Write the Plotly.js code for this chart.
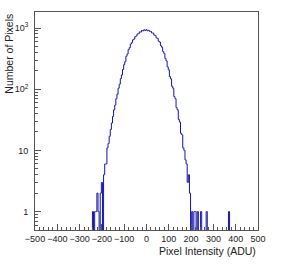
<!DOCTYPE html>
<html>
<head>
<meta charset="utf-8">
<script src="https://cdn.plot.ly/plotly-3.0.1.min.js"></script>
<style>html,body{margin:0;padding:0;background:#fff;}#chart{width:293px;height:264px;}</style>
</head>
<body>
<div id="chart"></div>
<script>
// Histogram: pixel intensity (ADU), bins of 5 ADU starting at centre -250
const binFirstCenter = -250;
const binWidth = 5;
const counts = [
  0,0,1,0,1,1,2,1,0,2,
  3,0,4,6,6,11,13,17,22,28,
  36,46,55,70,83,104,121,149,171,210,
  252,282,345,376,445,478,548,578,642,662,
  724,741,800,808,865,860,912,898,938,910,
  942,905,922,880,884,832,828,768,757,694,
  678,610,590,515,486,414,385,318,291,232,
  208,161,148,112,104,76,70,50,46,32,
  29,19,18,11,10,7,6,3,4,2,
  0,1,0,1,1,0,1,0,0,1,
  0,0,0,0,1,0,0,0,0,0,
  0,0,0,0,0,0,0,0,0,0,
  0,0,0,0,1,0
];
const xTickVals = [-500,-400,-300,-200,-100,0,100,200,300,400,500];
const yTickVals = [1,10,100,1000];
const yTickText = ['1','10','10<sup>2</sup>','10<sup>3</sup>'];
const xTitle = 'Pixel Intensity (ADU)';
const yTitle = 'Number of Pixels';

const xs = counts.map((c,i)=>binFirstCenter + i*binWidth);
const ys = counts.map(c => c > 0 ? c : 0.01); // empty bins drop below the frame

const axisColor = '#555';
const fontFam = 'Liberation Sans, Arial, sans-serif';
const tickFont = {family:fontFam, size:9, color:'#222'};

const trace = {
  x: xs, y: ys, type:'scatter', mode:'lines',
  line:{shape:'hvh', color:'rgb(20,20,175)', width:1, simplify:false},
  hoverinfo:'skip'
};

const layout = {
  width:293, height:264,
  margin:{l:35, r:35, t:12, b:34},
  paper_bgcolor:'#fff', plot_bgcolor:'#fff',
  showlegend:false,
  xaxis:{
    range:[-500,500], tickmode:'array', tickvals:xTickVals,
    ticks:'inside', ticklen:6, tickwidth:1, tickcolor:axisColor,
    minor:{dtick:20, ticks:'inside', ticklen:3, tickcolor:axisColor, showgrid:false},
    showline:true, linecolor:axisColor, linewidth:1, mirror:true,
    showgrid:false, zeroline:false, tickfont:tickFont
  },
  yaxis:{
    type:'log', range:[Math.log10(0.5), Math.log10(1830)],
    tickmode:'array', tickvals:yTickVals, ticktext:yTickText,
    ticks:'inside', ticklen:6, tickwidth:1, tickcolor:axisColor,
    minor:{dtick:'D1', ticks:'inside', ticklen:3, tickcolor:axisColor, showgrid:false},
    showline:true, linecolor:axisColor, linewidth:1, mirror:true,
    showgrid:false, zeroline:false, tickfont:tickFont, ticklabelstandoff:4
  },
  annotations:[
    {text:xTitle, xref:'paper', yref:'paper', x:1, y:-0.058, xanchor:'right', yanchor:'top',
     showarrow:false, font:{family:fontFam, size:10.5, color:'#222'}},
    {text:yTitle, xref:'paper', yref:'paper', x:-0.118, y:1, xanchor:'center', yanchor:'top',
     textangle:-90, showarrow:false, font:{family:fontFam, size:10.5, color:'#222'}}
  ]
};

Plotly.newPlot('chart', [trace], layout, {staticPlot:true, displayModeBar:false});
</script>
</body>
</html>
